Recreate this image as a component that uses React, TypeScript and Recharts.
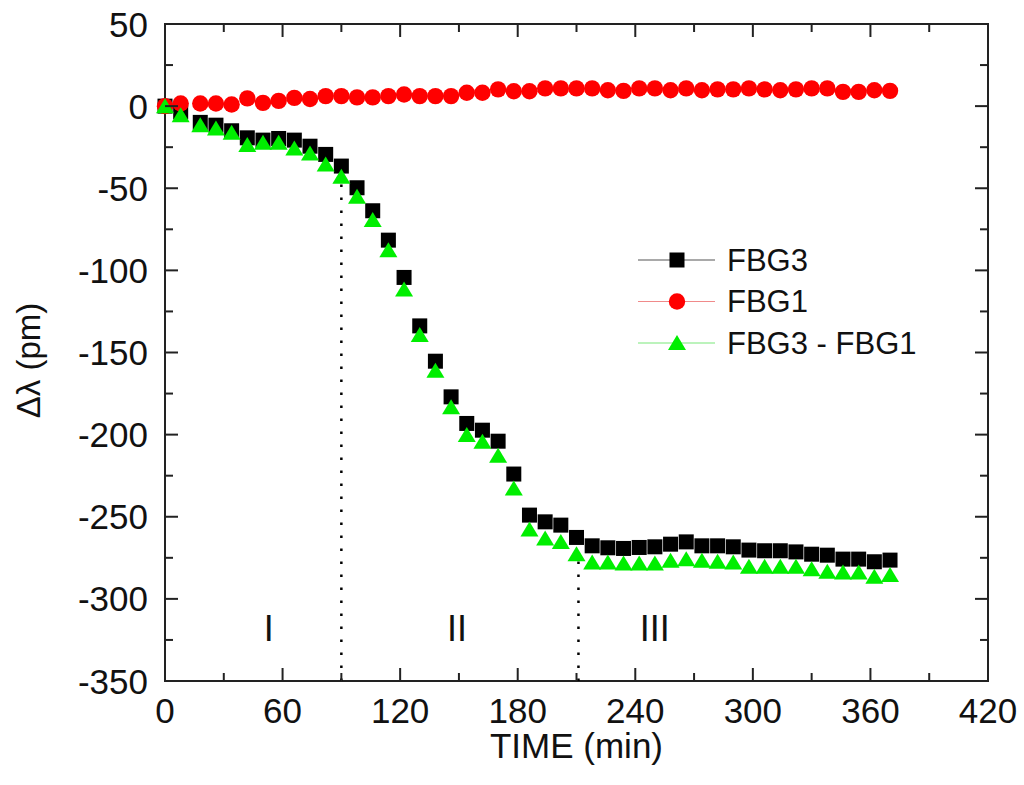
import React from 'react'
import {
  ReferenceArea,
  ReferenceDot,
  ReferenceLine,
  Scatter,
  ScatterChart,
  XAxis,
  YAxis,
} from 'recharts'

// FBG wavelength shift vs. time, three phases (I, II, III).
// Values, one point every ~8 min.

const TIME = [
  0, 8, 18, 26, 34, 42, 50, 58, 66, 74, 82, 90, 98, 106, 114, 122, 130, 138, 146, 154,
  162, 170, 178, 186, 194, 202, 210, 218, 226, 234, 242, 250, 258, 266, 274, 282, 290,
  298, 306, 314, 322, 330, 338, 346, 354, 362, 370,
]

const FBG3 = [
  0, -3.5, -9.9, -11.6, -15.0, -19.3, -20.7, -19.7, -20.7, -24.4, -29.4, -36.5, -49.7,
  -63.7, -81.6, -104.3, -133.8, -155.3, -177.0, -193.2, -197.3, -204.0, -224.0, -249.0,
  -253.1, -255.1, -262.6, -267.7, -268.9, -269.3, -268.7, -268.3, -266.7, -265.3, -267.7,
  -267.7, -268.3, -270.3, -270.7, -270.7, -271.4, -272.8, -273.4, -275.8, -275.8, -277.4,
  -276.4,
]

const FBG1 = [
  0, 1.6, 1.6, 1.6, 1.0, 4.7, 2.0, 3.2, 5.0, 4.3, 6.1, 6.1, 5.3, 5.3, 6.1, 7.1, 6.1, 6.1,
  6.1, 8.1, 8.1, 10.2, 9.1, 9.1, 10.8, 10.8, 10.8, 10.8, 9.7, 9.3, 10.8, 10.8, 9.7, 10.8,
  9.7, 10.2, 10.2, 10.8, 10.2, 9.7, 10.2, 10.8, 10.8, 8.7, 8.7, 9.7, 9.3,
]

const DIFF = [
  0, -5.5, -11.6, -13.6, -16.2, -23.7, -22.3, -22.3, -25.8, -28.8, -35.5, -43.0, -55.2,
  -69.4, -87.7, -111.6, -139.4, -161.1, -183.4, -200.3, -204.4, -212.9, -232.8, -257.7,
  -263.2, -265.3, -272.8, -277.8, -277.8, -278.4, -278.4, -278.4, -276.8, -275.8, -276.8,
  -277.4, -277.8, -280.5, -280.5, -280.5, -280.5, -281.9, -283.5, -283.9, -283.9, -286.6,
  -285.5,
]

const X_TICKS = [0, 30, 60, 90, 120, 150, 180, 210, 240, 270, 300, 330, 360, 390, 420]
const Y_TICKS = [
  -350, -325, -300, -275, -250, -225, -200, -175, -150, -125, -100, -75, -50, -25, 0, 25, 50,
]

const REGIONS = [
  { name: 'I', t: 53, v: -318 },
  { name: 'II', t: 149, v: -318 },
  { name: 'III', t: 250, v: -318 },
]

// phase boundaries: dotted drop lines from the axis up to the curve
const BOUNDARIES = [
  { t: 90, top: -47 },
  { t: 211, top: -276 },
]

const FONT = '"Liberation Sans", Arial, Helvetica, sans-serif'
const W = 1024
const H = 785
const MARGIN = { top: 24, right: 36, bottom: 0, left: 0 }
const Y_AXIS_W = 165
const X_AXIS_H = 104
const PLOT_W = W - MARGIN.left - MARGIN.right - Y_AXIS_W
const PLOT_H = H - MARGIN.top - MARGIN.bottom - X_AXIS_H
const AXIS = '#222'

const fbg3Data = TIME.map((t, i) => ({ t, v: FBG3[i] }))
const fbg1Data = TIME.map((t, i) => ({ t, v: FBG1[i] }))
const diffData = TIME.map((t, i) => ({ t, v: DIFF[i] }))

// inward ticks on all four sides, labels only on the majors
function XTick(props: any) {
  const { x, y, payload } = props
  const v = payload.value
  const major = v % 60 === 0
  const len = major ? 13 : 8
  return (
    <g>
      <line x1={x} x2={x} y1={y} y2={y - len} stroke={AXIS} strokeWidth={2} />
      <line x1={x} x2={x} y1={y - PLOT_H} y2={y - PLOT_H + len} stroke={AXIS} strokeWidth={2} />
      {major && (
        <text
          x={x}
          y={y + 29}
          textAnchor="middle"
          dominantBaseline="central"
          fontSize={35}
          fontFamily={FONT}
          fill="#111"
        >
          {v}
        </text>
      )}
    </g>
  )
}

function YTick(props: any) {
  const { x, y, payload } = props
  const v = payload.value
  const major = v % 50 === 0
  const len = major ? 13 : 8
  return (
    <g>
      <line x1={x} x2={x + len} y1={y} y2={y} stroke={AXIS} strokeWidth={2} />
      <line x1={x + PLOT_W} x2={x + PLOT_W - len} y1={y} y2={y} stroke={AXIS} strokeWidth={2} />
      {major && (
        <text
          x={x - 17}
          y={y}
          textAnchor="end"
          dominantBaseline="central"
          fontSize={35}
          fontFamily={FONT}
          fill="#111"
        >
          {v}
        </text>
      )}
    </g>
  )
}

const square = (p: any) => (
  <rect x={p.cx - 7.5} y={p.cy - 7.5} width={15} height={15} fill="#000" />
)
const dot = (p: any) => <circle cx={p.cx} cy={p.cy} r={8.2} fill="#ff0000" />
const triangle = (p: any) => (
  <polygon
    points={`${p.cx},${p.cy - 8} ${p.cx + 9},${p.cy + 7} ${p.cx - 9},${p.cy + 7}`}
    fill="#00ee00"
  />
)

function YTitle(props: any) {
  const vb = props.viewBox
  const cx = vb.x + 28
  const cy = vb.y + vb.height / 2 + 8
  return (
    <text
      x={cx}
      y={cy}
      transform={`rotate(-90 ${cx} ${cy})`}
      textAnchor="middle"
      dominantBaseline="central"
      fontSize={33}
      fontFamily={FONT}
      fill="#111"
    >
      Δλ (pm)
    </text>
  )
}

const LEGEND = [
  { name: 'FBG3', line: '#555', mark: 'square' },
  { name: 'FBG1', line: '#f08a8a', mark: 'circle' },
  { name: 'FBG3 - FBG1', line: '#7be87b', mark: 'triangle' },
]

function LegendBox() {
  return (
    <svg
      width={340}
      height={130}
      style={{ position: 'absolute', left: 630, top: 238 }}
    >
      {LEGEND.map((item, i) => {
        const y = 22 + i * 41.5
        const cx = 47
        return (
          <g key={item.name}>
            <line x1={8} x2={85} y1={y} y2={y} stroke={item.line} strokeWidth={1.2} />
            {item.mark === 'square' && square({ cx, cy: y })}
            {item.mark === 'circle' && dot({ cx, cy: y })}
            {item.mark === 'triangle' && triangle({ cx, cy: y })}
            <text
              x={97}
              y={y}
              dominantBaseline="central"
              fontSize={31}
              fontFamily={FONT}
              fill="#111"
            >
              {item.name}
            </text>
          </g>
        )
      })}
    </svg>
  )
}

export default function App() {
  return (
    <div style={{ position: 'absolute', left: 0, top: 0, width: W, height: H, background: '#fff' }}>
      <ScatterChart width={W} height={H} margin={MARGIN}>
        <XAxis
          dataKey="t"
          type="number"
          domain={[0, 420]}
          ticks={X_TICKS}
          interval={0}
          height={X_AXIS_H}
          axisLine={false}
          tickLine={false}
          tickSize={0}
          tickMargin={0}
          tick={XTick}
          label={{
            value: 'TIME (min)',
            position: 'insideBottom',
            offset: 27,
            fontSize: 35,
            fontFamily: FONT,
            fill: '#111',
          }}
        />
        <YAxis
          dataKey="v"
          type="number"
          domain={[-350, 50]}
          ticks={Y_TICKS}
          interval={0}
          width={Y_AXIS_W}
          axisLine={false}
          tickLine={false}
          tickSize={0}
          tickMargin={0}
          tick={YTick}
          label={{ content: YTitle }}
        />
        <ReferenceArea
          x1={0}
          x2={420}
          y1={-350}
          y2={50}
          fill="none"
          fillOpacity={0}
          stroke={AXIS}
          strokeWidth={2}
        />
        {BOUNDARIES.map((b) => (
          <ReferenceLine
            key={b.t}
            segment={[
              { x: b.t, y: -350 },
              { x: b.t, y: b.top },
            ]}
            stroke="#000"
            strokeWidth={2.5}
            strokeDasharray="2.5 10.5"
          />
        ))}
        {REGIONS.map((r) => (
          <ReferenceDot
            key={r.name}
            x={r.t}
            y={r.v}
            r={1}
            fill="none"
            stroke="none"
            label={{
              value: r.name,
              position: 'center',
              fontSize: 36,
              fontFamily: FONT,
              fill: '#111',
            }}
          />
        ))}
        <Scatter name="FBG3" data={fbg3Data} shape={square} isAnimationActive={false} />
        <Scatter name="FBG1" data={fbg1Data} shape={dot} isAnimationActive={false} />
        <Scatter name="FBG3 - FBG1" data={diffData} shape={triangle} isAnimationActive={false} />
      </ScatterChart>
      <LegendBox />
    </div>
  )
}
